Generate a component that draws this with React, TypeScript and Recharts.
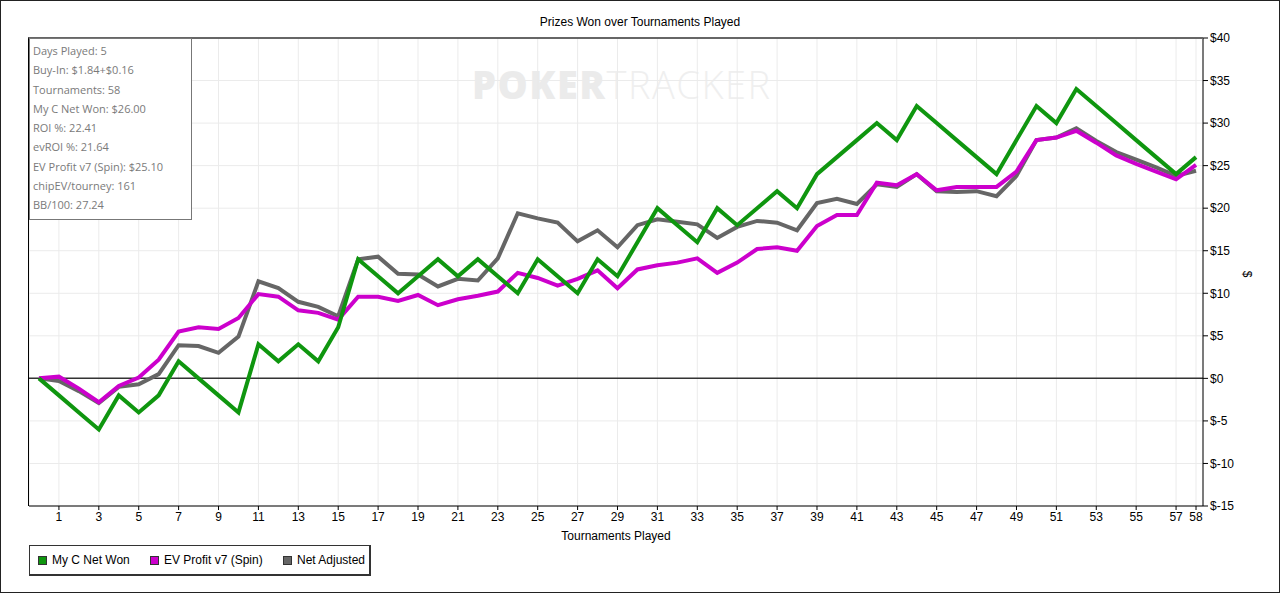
import React from "react";
import {
  LineChart,
  Line,
  XAxis,
  YAxis,
  CartesianGrid,
  ReferenceLine,
} from "recharts";

const tournaments = [
  0, 1, 2, 3, 4, 5, 6, 7, 8, 9, 10, 11, 12, 13, 14, 15, 16, 17, 18, 19, 20,
  21, 22, 23, 24, 25, 26, 27, 28, 29, 30, 31, 32, 33, 34, 35, 36, 37, 38, 39,
  40, 41, 42, 43, 44, 45, 46, 47, 48, 49, 50, 51, 52, 53, 54, 55, 56, 57, 58,
];

const netWon = [
  0, -2, -4, -6, -2, -4, -2, 2, 0, -2, -4, 4, 2, 4, 2, 6, 14, 12, 10, 12, 14,
  12, 14, 12, 10, 14, 12, 10, 14, 12, 16, 20, 18, 16, 20, 18, 20, 22, 20, 24,
  26, 28, 30, 28, 32, 30, 28, 26, 24, 28, 32, 30, 34, 32, 30, 28, 26, 24, 26,
];

const evProfit = [
  0, 0.2, -1.2, -2.8, -0.9, 0.1, 2.2, 5.5, 6.0, 5.8, 7.1, 9.9, 9.6, 8.0, 7.7,
  6.9, 9.6, 9.6, 9.1, 9.8, 8.6, 9.3, 9.7, 10.2, 12.4, 11.8, 10.9, 11.7, 12.7,
  10.6, 12.8, 13.3, 13.6, 14.1, 12.4, 13.6, 15.2, 15.4, 15.0, 17.9, 19.2, 19.2,
  23.0, 22.7, 24.0, 22.1, 22.5, 22.5, 22.5, 24.3, 28.0, 28.3, 29.1, 27.7, 26.2,
  25.2, 24.3, 23.4, 25.1,
];

const netAdjusted = [
  0, -0.3, -1.5, -2.9, -1.0, -0.7, 0.5, 3.9, 3.8, 3.0, 4.9, 11.4, 10.6, 9.0,
  8.4, 7.3, 14.0, 14.3, 12.3, 12.2, 10.8, 11.7, 11.5, 14.1, 19.4, 18.8, 18.3,
  16.1, 17.4, 15.4, 18.0, 18.7, 18.4, 18.1, 16.5, 17.8, 18.5, 18.3, 17.4, 20.6,
  21.1, 20.5, 22.8, 22.5, 24.0, 22.0, 21.9, 22.0, 21.4, 23.8, 28.0, 28.3, 29.4,
  27.9, 26.6, 25.7, 24.8, 23.8, 24.4,
];

const xTicks = [
  1, 3, 5, 7, 9, 11, 13, 15, 17, 19, 21, 23, 25, 27, 29, 31, 33, 35, 37, 39,
  41, 43, 45, 47, 49, 51, 53, 55, 57, 58,
];
const yTicks = [-15, -10, -5, 0, 5, 10, 15, 20, 25, 30, 35, 40];

const infoLines = [
  "Days Played: 5",
  "Buy-In: $1.84+$0.16",
  "Tournaments: 58",
  "My C Net Won: $26.00",
  "ROI %: 22.41",
  "evROI %: 21.64",
  "EV Profit v7 (Spin): $25.10",
  "chipEV/tourney: 161",
  "BB/100: 27.24",
];

const seriesNames = ["My C Net Won", "EV Profit v7 (Spin)", "Net Adjusted"];
const seriesColors = ["#0f960f", "#cc00cc", "#666666"];

const data = tournaments.map((t, i) => ({
  t,
  won: netWon[i],
  ev: evProfit[i],
  adj: netAdjusted[i],
}));

const FONT = "'Liberation Sans', Arial, sans-serif";

export default function App() {
  return (
    <div
      style={{
        position: "fixed",
        left: 0,
        top: 0,
        width: 1280,
        height: 593,
        background: "#fff",
        overflow: "hidden",
        fontFamily: FONT,
      }}
    >
      {/* watermark */}
      <div
        style={{
          position: "absolute",
          left: 472,
          top: 61,
          fontFamily: "'Open Sans', sans-serif",
          fontSize: 38,
          lineHeight: "46px",
          color: "#ebebeb",
          whiteSpace: "nowrap",
          letterSpacing: 1.5,
        }}
      >
        <span style={{ fontWeight: 800 }}>POKER</span>
        <span style={{ fontWeight: 300, color: "#efefef" }}>TRACKER</span>
      </div>

      <div style={{ position: "absolute", left: 0, top: 0 }}>
        <LineChart
          width={1280}
          height={593}
          data={data}
          margin={{ top: 38, right: 0, left: 29, bottom: 0 }}
        >
          <CartesianGrid stroke="#ebebeb" />
          <XAxis
            type="number"
            dataKey="t"
            domain={[-0.5, 58.35]}
            ticks={xTicks}
            interval={0}
            allowDataOverflow
            height={87}
            tickSize={4}
            tickLine={{ stroke: "#000" }}
            axisLine={{ stroke: "#000" }}
            tick={{ fontSize: 12, fill: "#000", fontFamily: FONT }}
          />
          <YAxis
            orientation="right"
            domain={[-15, 40]}
            ticks={yTicks}
            interval={0}
            allowDataOverflow
            width={77}
            tickSize={5}
            tickLine={{ stroke: "#000" }}
            axisLine={{ stroke: "#000" }}
            tickFormatter={(v: number) => `$${v}`}
            tick={{ fontSize: 12, fill: "#000", fontFamily: FONT, textAnchor: "start" }}
          />
          <ReferenceLine y={0} stroke="#333" strokeWidth={1.5} />
          <Line
            type="linear"
            dataKey="adj"
            stroke={seriesColors[2]}
            strokeWidth={4}
            dot={false}
            isAnimationActive={false}
          />
          <Line
            type="linear"
            dataKey="ev"
            stroke={seriesColors[1]}
            strokeWidth={4}
            dot={false}
            isAnimationActive={false}
          />
          <Line
            type="linear"
            dataKey="won"
            stroke={seriesColors[0]}
            strokeWidth={4}
            dot={false}
            isAnimationActive={false}
          />
        </LineChart>
      </div>

      {/* plot frame top/left */}
      <div
        style={{
          position: "absolute",
          left: 28,
          top: 37,
          width: 1175,
          height: 469,
          borderTop: "2px solid #666",
          borderLeft: "1px solid #000",
          boxSizing: "border-box",
          pointerEvents: "none",
        }}
      />

      {/* title */}
      <div
        style={{
          position: "absolute",
          left: 0,
          width: 1280,
          top: 15,
          textAlign: "center",
          fontSize: 12,
          color: "#000",
        }}
      >
        Prizes Won over Tournaments Played
      </div>

      {/* axis labels */}
      <div
        style={{
          position: "absolute",
          left: 29,
          width: 1174,
          top: 529,
          textAlign: "center",
          fontSize: 12,
          color: "#000",
        }}
      >
        Tournaments Played
      </div>
      <div
        style={{
          position: "absolute",
          left: 1240,
          top: 266,
          width: 14,
          height: 16,
          fontSize: 12,
          color: "#000",
          transform: "rotate(90deg)",
          textAlign: "center",
          lineHeight: "16px",
        }}
      >
        $
      </div>

      {/* info box */}
      <div
        style={{
          position: "absolute",
          left: 29,
          top: 38,
          width: 163,
          height: 182,
          boxSizing: "border-box",
          border: "1px solid #777",
          background: "#fff",
          paddingLeft: 3,
          paddingTop: 2,
          fontFamily: "'Open Sans', sans-serif",
          fontSize: 11,
          color: "#7a7a7a",
        }}
      >
        {infoLines.map((l) => (
          <div key={l} style={{ height: 19.3, lineHeight: "19.3px", whiteSpace: "nowrap" }}>
            {l}
          </div>
        ))}
      </div>

      {/* legend */}
      <div
        style={{
          position: "absolute",
          left: 29,
          top: 545,
          width: 342,
          height: 31,
          boxSizing: "border-box",
          border: "1px solid #333",
          borderRightWidth: 2,
          borderBottomWidth: 2,
          fontSize: 12,
          color: "#000",
        }}
      >
        {seriesNames.map((n, i) => (
          <div
            key={n}
            style={{
              position: "absolute",
              left: [8, 120, 253][i],
              top: 7,
              display: "flex",
              alignItems: "center",
              whiteSpace: "nowrap",
            }}
          >
            <span
              style={{
                display: "inline-block",
                width: 7,
                height: 7,
                background: seriesColors[i],
                border: "1px solid #333",
                marginRight: 5,
              }}
            />
            <span>{n}</span>
          </div>
        ))}
      </div>

      {/* outer border */}
      <div
        style={{
          position: "absolute",
          inset: 0,
          border: "1px solid #222",
          pointerEvents: "none",
        }}
      />
    </div>
  );
}
